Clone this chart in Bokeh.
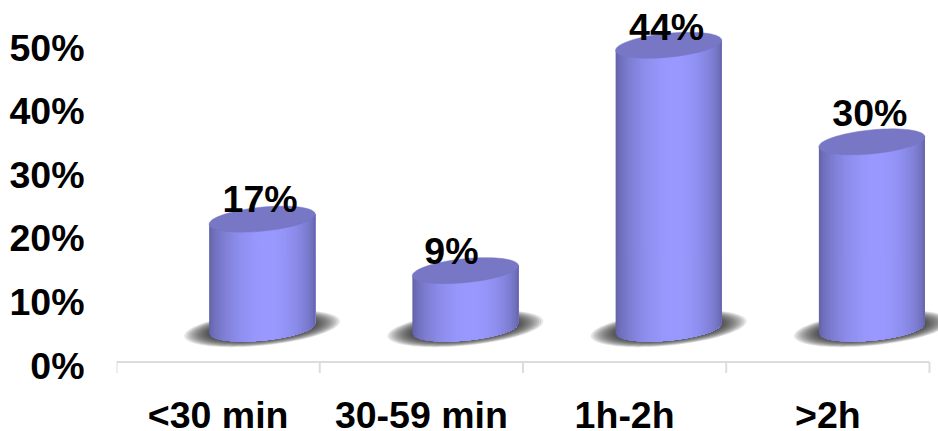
import numpy as np
from bokeh.embed import file_html
from bokeh.resources import INLINE
from bokeh.plotting import figure
from bokeh.models import ColumnDataSource, Range1d, LinearAxis, FixedTicker
from bokeh.core.properties import value

categories = ["<30 min", "30-59 min", "1h-2h", ">2h"]
percent = [17, 9, 44, 30]          # printed labels
column_height = [17, 9, 44, 29]    # heights of the drawn columns
y_ticks = [0, 10, 20, 30, 40, 50]

FONT = "Liberation Sans"
FS = "37.5px"
PX_X = 203.25      # px per category
PX_Y = 6.36        # px per percent
W, H = 938, 431
LEFT = 116
ZERO_PX = 365      # pixel row of the 0% tick
AXIS_V = 3.5 / PX_Y   # the drawn base line sits a little above the 0% label

p = figure(width=W, height=H, output_backend="svg", toolbar_location=None,
           x_range=Range1d(0, (W - LEFT) / PX_X),
           y_range=Range1d(-(H - ZERO_PX) / PX_Y, ZERO_PX / PX_Y),
           x_axis_location=None, y_axis_location=None,
           min_border_left=LEFT, min_border_right=0, min_border_top=0, min_border_bottom=0)
p.grid.visible = False
p.outline_line_color = None
p.background_fill_color = "white"

# 3D projection constants of the column drawing
BASE = 5.8
DEPTH = 1.0126
DX = 44 / PX_X
A = 53 / PX_X
B = 12 / PX_Y
TILT = (5 / 53) * (PX_X / PX_Y)

def arc(xc, yc, a, b, tilt, xs, sign):
    t = (xs - xc) / a
    return yc + tilt * (xs - xc) + sign * b * np.sqrt(np.clip(1 - t * t, 0, 1))

def shade(t):
    s = np.sin(np.pi * np.clip(t, 0, 1) ** 1.15) ** 0.55
    lo = np.array([0x60, 0x60, 0xa4]); hi = np.array([0x99, 0x99, 0xff])
    c = lo + (hi - lo) * s
    return "#%02x%02x%02x" % tuple(int(v) for v in c)

centers = np.arange(len(categories)) + 0.5 + DX
tops = [BASE + h * DEPTH for h in column_height]

# shadows
th = np.linspace(0, 2 * np.pi, 80)
for xc in centers:
    for k in np.linspace(1.0, 0.6, 16):
        a, b = A * 1.47 * k, (17 / PX_Y) * k
        xs = xc + a * np.cos(th)
        ys = BASE + TILT * (xs - xc) + b * np.sin(th)
        p.patch(xs, ys, fill_color="#202020", fill_alpha=0.11, line_color=None)

# cylinder sides (painted left to right, each strip reaching the right edge), tops
N = 53
for xc, v in zip(centers, tops):
    edges = np.linspace(xc - A, xc + A, N + 1)
    for i in range(N):
        e = np.linspace(edges[i], xc + A, max(3, N - i + 2))
        low = arc(xc, BASE, A, B, TILT, e, -1)
        top = v + TILT * (e - xc)
        p.patch(np.r_[e, e[::-1]], np.r_[low, top[::-1]],
                fill_color=shade((i + 0.5) / N), line_color=None)
    xs = xc + A * np.cos(th)
    ys = v + TILT * (xs - xc) + B * np.sin(th)
    p.patch(xs, ys, fill_color="#7777c6", line_color="#7777c6", line_width=0.5)

# value labels
nudge_x = [-2, -14, -2, -2]
nudge_y = [20, 20, 18, 29]
src = ColumnDataSource(dict(x=centers.tolist(), y=tops,
                            t=[f"{v}%" for v in percent], xo=nudge_x, yo=[-n for n in nudge_y]))
p.text("x", "y", text="t", source=src, x_offset="xo", y_offset="yo", text_align="center",
       text_baseline="middle", text_font=value(FONT), text_font_style="bold",
       text_font_size=FS, text_color="black")

# y axis
ya = LinearAxis(ticker=FixedTicker(ticks=y_ticks))
ya.major_label_overrides = {t: f"{t}%" for t in y_ticks}
ya.axis_line_color = None
ya.major_tick_line_color = None
ya.minor_tick_line_color = None
ya.major_label_standoff = 26
ya.major_label_text_font = FONT
ya.major_label_text_font_style = "bold"
ya.major_label_text_font_size = FS
ya.major_label_text_color = "black"
p.add_layout(ya, "left")

# x axis line and ticks on the category edges
n = len(categories)
edges_x = list(range(n + 1))
p.segment([0], [AXIS_V], [n], [AXIS_V], line_color="#dcdcdc", line_width=2)
p.segment(edges_x, [AXIS_V] * (n + 1), edges_x, [AXIS_V - 11 / PX_Y] * (n + 1),
          line_color="#dcdcdc", line_width=2)

# category labels
cat_src = ColumnDataSource(dict(x=[i + 0.5 for i in range(n)], y=[-49 / PX_Y] * n, t=categories))
p.text("x", "y", text="t", source=cat_src, text_align="center", text_baseline="middle",
       text_font=value(FONT), text_font_style="bold", text_font_size=FS, text_color="black")

open("out.html", "w").write(file_html(p, INLINE))
